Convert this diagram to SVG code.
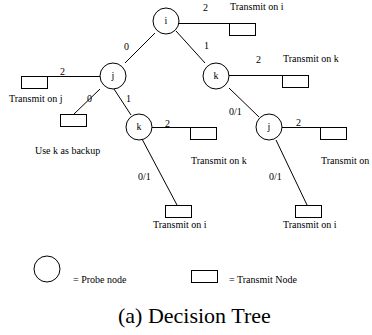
<svg xmlns="http://www.w3.org/2000/svg" width="372" height="335" viewBox="0 0 372 335" font-family="'Liberation Serif', serif">
<style>
.p{fill:#fff;stroke:#000;stroke-width:1}
.t{fill:#fff;stroke:#000;stroke-width:1}
.e{stroke:#000;stroke-width:1;fill:none}
text{font-family:'Liberation Serif', serif;font-size:10px;fill:#000}
.c{text-anchor:middle}
.title{font-size:22px}
.lg{font-size:10px}
</style>
<rect width="372" height="335" fill="#fff"/>
<g id="connectors">
<line class="e" x1="179" y1="23.5" x2="229" y2="23.5"/>
<line class="e" x1="155" y1="33" x2="125" y2="63"/>
<line class="e" x1="176" y1="31" x2="205" y2="63"/>
<line class="e" x1="48" y1="76.5" x2="100" y2="76.5"/>
<line class="e" x1="100" y1="89" x2="74" y2="114"/>
<line class="e" x1="114" y1="89" x2="131" y2="115"/>
<line class="e" x1="152" y1="127.5" x2="190" y2="127.5"/>
<line class="e" x1="142" y1="139" x2="177" y2="205"/>
<line class="e" x1="229" y1="75.5" x2="282" y2="75.5"/>
<line class="e" x1="229" y1="88" x2="259" y2="117"/>
<line class="e" x1="282" y1="127.5" x2="320" y2="127.5"/>
<line class="e" x1="276" y1="140" x2="307" y2="205"/>
<text x="203" y="11">2</text>
<text x="124" y="50">0</text>
<text x="204" y="49">1</text>
<text x="60" y="75">2</text>
<text x="87" y="102">0</text>
<text x="126" y="102">1</text>
<text x="165" y="127">2</text>
<text x="138" y="180">0/1</text>
<text x="256" y="63">2</text>
<text x="229" y="115">0/1</text>
<text x="296" y="126">2</text>
<text x="269" y="180">0/1</text>
</g>
<g id="probe-i"><circle class="p" cx="166" cy="21" r="13"/><text class="c" x="166" y="24">i</text></g>
<g id="probe-j"><circle class="p" cx="113" cy="76" r="13"/><text class="c" x="113" y="79">j</text></g>
<g id="probe-k"><circle class="p" cx="216" cy="76" r="13"/><text class="c" x="216" y="79">k</text></g>
<g id="probe-k2"><circle class="p" cx="139" cy="127" r="13"/><text class="c" x="139" y="130">k</text></g>
<g id="probe-j2"><circle class="p" cx="269" cy="127" r="13"/><text class="c" x="269" y="130">j</text></g>
<g id="tx-i-top"><rect class="t" x="229.5" y="23.5" width="26" height="12"/><text x="230" y="10">Transmit on i</text></g>
<g id="tx-j"><rect class="t" x="21.5" y="76.5" width="26" height="12"/><text x="9" y="102">Transmit on j</text></g>
<g id="backup"><rect class="t" x="60.5" y="114.5" width="26" height="12"/><text x="35" y="154">Use k as backup</text></g>
<g id="tx-k-mid"><rect class="t" x="190.5" y="127.5" width="26" height="12"/><text x="191" y="164">Transmit on k</text></g>
<g id="tx-i-left"><rect class="t" x="165.5" y="205.5" width="26" height="12"/><text x="153" y="228">Transmit on i</text></g>
<g id="tx-k-top"><rect class="t" x="282.5" y="75.5" width="26" height="12"/><text x="283" y="62">Transmit on k</text></g>
<g id="tx-right"><rect class="t" x="320.5" y="127.5" width="26" height="12"/><text x="321" y="164">Transmit on</text></g>
<g id="tx-i-right"><rect class="t" x="295.5" y="205.5" width="26" height="12"/><text x="283" y="228">Transmit on i</text></g>
<g id="legend">
<circle class="p" cx="47" cy="269" r="13"/>
<text class="lg" x="73" y="283">= Probe node</text>
<rect class="t" x="191.5" y="270.5" width="26" height="12"/>
<text class="lg" x="229" y="283">= Transmit Node</text>
</g>
<text class="title" x="118" y="323">(a) Decision Tree</text>
</svg>
